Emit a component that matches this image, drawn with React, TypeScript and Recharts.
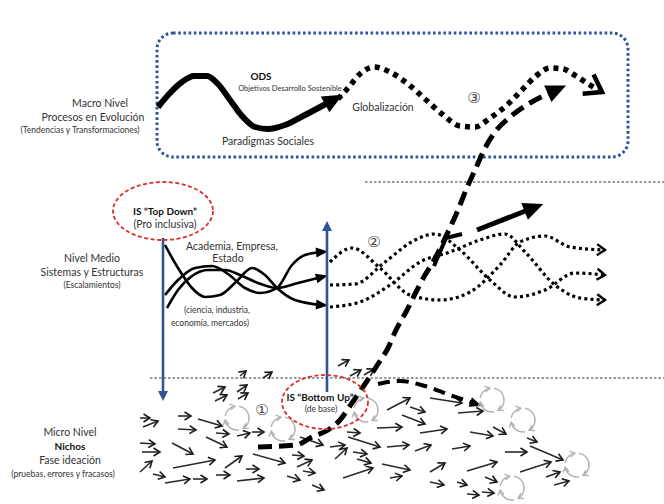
import React from "react";
import {
  ComposedChart,
  Line,
  Scatter,
  XAxis,
  YAxis,
  ReferenceLine,
  ReferenceArea,
} from "recharts";

type P = [number, number];

// diagram drawn on a 664 x 504 data plane (y grows downward)
const macroSolid: P[] = [
  [158, 107], [170, 93], [182, 82], [194, 76], [207, 76], [218, 84], [230, 100],
  [242, 116], [255, 127], [268, 129], [285, 125], [305, 115], [322, 106], [333, 100],
];
const macroDotted: P[] = [
  [338, 99], [348, 88], [360, 74], [374, 67], [390, 72], [408, 84], [425, 99],
  [442, 114], [460, 126], [475, 127], [490, 118], [507, 105], [522, 90], [536, 76],
  [550, 68], [563, 69], [576, 76], [590, 85], [602, 92],
];

const midSolidA: P[] = [[165, 245], [178, 268], [192, 288], [205, 297], [220, 295], [236, 282], [252, 268], [265, 275], [277, 288], [295, 300], [322, 305]];
const midSolidB: P[] = [[165, 295], [178, 280], [195, 268], [212, 266], [228, 274], [245, 288], [260, 293], [277, 288], [292, 265], [305, 255], [322, 252]];
const midSolidC: P[] = [[167, 308], [178, 290], [192, 276], [208, 270], [225, 270], [240, 275], [258, 283], [277, 288], [298, 283], [322, 277]];

const midDotA: P[] = [[330, 262], [352, 248], [380, 268], [410, 295], [440, 300], [470, 292], [500, 265], [520, 242], [545, 236], [570, 247], [605, 250]];
const midDotB: P[] = [[330, 285], [355, 284], [385, 262], [415, 240], [435, 234], [460, 250], [490, 280], [515, 297], [545, 290], [575, 273], [605, 275]];
const midDotC: P[] = [[330, 307], [360, 302], [390, 285], [420, 262], [450, 252], [480, 240], [505, 234], [525, 252], [555, 285], [580, 298], [605, 300]];

const bigDash: P[] = [
  [258, 447], [296, 445], [312, 437], [328, 430], [340, 420], [352, 403], [367, 381],
  [378, 364], [388, 348], [396, 330], [406, 312], [417, 290], [425, 275], [433, 262],
  [448, 232], [458, 210], [466, 190], [475, 170], [484, 150], [495, 132], [510, 117],
  [530, 103], [556, 90],
];
const branchSolid: P[] = [[434, 266], [446, 238], [462, 234]];
const thickArrow: P[] = [[477, 230], [533, 208]];
const microDash: P[] = [[378, 384], [400, 381], [425, 386], [450, 395], [476, 404]];

const topDown: P[] = [[163, 238], [163, 394]];
const bottomUp: P[] = [[327, 392], [327, 228]];

// small niche arrows: x1, y1, x2, y2
const nicheArrows: [number, number, number, number][] = [
  [240, 376, 246, 371], [263, 378, 272, 372], [213, 393, 225, 387], [237, 392, 247, 385],
  [215, 401, 227, 395], [238, 399, 248, 393], [338, 366, 349, 360], [350, 376, 361, 370],
  [364, 375, 374, 369],
  [140, 418, 150, 418], [143, 427, 158, 421], [178, 416, 191, 416], [178, 429, 196, 430],
  [198, 419, 222, 426], [216, 433, 229, 434], [140, 443, 155, 444], [142, 452, 160, 452],
  [172, 443, 193, 454], [206, 437, 227, 447], [237, 436, 250, 433], [252, 432, 264, 432],
  [140, 472, 152, 461], [153, 474, 165, 477], [173, 468, 215, 460], [225, 468, 242, 456],
  [165, 483, 190, 479], [193, 479, 207, 479], [216, 475, 230, 475], [246, 469, 259, 469],
  [237, 481, 264, 478], [253, 454, 285, 463], [292, 455, 304, 456], [297, 467, 312, 460],
  [287, 476, 300, 480], [303, 471, 315, 473], [312, 485, 324, 490], [300, 437, 323, 445],
  [387, 410, 410, 398], [410, 407, 425, 412], [430, 398, 462, 403], [458, 413, 483, 411],
  [402, 415, 425, 424], [377, 428, 402, 427], [420, 433, 447, 429], [470, 432, 493, 436],
  [493, 427, 506, 434], [347, 432, 360, 433], [348, 437, 380, 447], [330, 447, 345, 445],
  [353, 452, 367, 454], [387, 447, 409, 445], [415, 451, 431, 445], [452, 449, 470, 446],
  [505, 452, 527, 452], [527, 438, 537, 442], [530, 446, 563, 460], [335, 459, 347, 448],
  [357, 459, 371, 463], [343, 478, 373, 468], [382, 464, 410, 470], [430, 472, 445, 463],
  [467, 471, 497, 462], [390, 478, 402, 476], [430, 482, 444, 485], [457, 482, 467, 485],
  [467, 494, 479, 495], [482, 492, 494, 493], [485, 477, 497, 482], [520, 472, 551, 462],
  [546, 477, 560, 472], [554, 485, 569, 481],
];

// grey trial-and-error loops
const loops = [
  { x: 237, y: 418 }, { x: 283, y: 429 }, { x: 366, y: 410 }, { x: 492, y: 400 },
  { x: 523, y: 420 }, { x: 577, y: 465 }, { x: 512, y: 488 },
];

const topDownCircle = [{ x: 163, y: 211 }];
const bottomUpCircle = [{ x: 325, y: 402 }];

const labels = [
  { x: 100, y: 103, text: "Macro Nivel", kind: "title" },
  { x: 93, y: 117, text: "Procesos en Evolución", kind: "title" },
  { x: 80, y: 130, text: "(Tendencias y Transformaciones)", kind: "small" },
  { x: 261, y: 76, text: "ODS", kind: "bold" },
  { x: 290, y: 88, text: "Objetivos Desarrollo Sostenible", kind: "tiny" },
  { x: 383, y: 107, text: "Globalización", kind: "title" },
  { x: 268, y: 141, text: "Paradigmas Sociales", kind: "title" },
  { x: 165, y: 211, text: "IS “Top Down”", kind: "bold" },
  { x: 165, y: 224, text: "(Pro inclusiva)", kind: "title" },
  { x: 92, y: 258, text: "Nivel Medio", kind: "title" },
  { x: 92, y: 272, text: "Sistemas y Estructuras", kind: "title" },
  { x: 92, y: 285, text: "(Escalamientos)", kind: "small" },
  { x: 232, y: 246, text: "Academia, Empresa,", kind: "title" },
  { x: 228, y: 258, text: "Estado", kind: "title" },
  { x: 217, y: 310, text: "(ciencia, industria,", kind: "small" },
  { x: 210, y: 323, text: "economía, mercados)", kind: "small" },
  { x: 320, y: 397, text: "IS “Bottom Up”", kind: "bold" },
  { x: 321, y: 409, text: "(de base)", kind: "small" },
  { x: 70, y: 432, text: "Micro Nivel", kind: "title" },
  { x: 70, y: 446, text: "Nichos", kind: "bold" },
  { x: 70, y: 460, text: "Fase ideación", kind: "title" },
  { x: 63, y: 474, text: "(pruebas, errores y fracasos)", kind: "small" },
  { x: 262, y: 410, text: "①", kind: "num" },
  { x: 374, y: 242, text: "②", kind: "num" },
  { x: 474, y: 98, text: "③", kind: "num" },
];

const FONT = "Lato, 'Open Sans', sans-serif";
const BLUE = "#2f5597";

const textStyle: Record<string, any> = {
  title: { fontSize: 10.5, fill: "#333" },
  small: { fontSize: 8.5, fill: "#333" },
  tiny: { fontSize: 7.5, fill: "#333" },
  bold: { fontSize: 10, fill: "#111", fontWeight: 700 },
  num: { fontSize: 15, fill: "#444", fontFamily: "'DejaVu Sans', sans-serif" },
};

const toXY = (a: P[]) => a.map(([x, y]) => ({ x, y }));

const renderLabel = (p: any) => {
  const d = p.payload;
  const s = textStyle[d.kind];
  return (
    <text
      x={p.cx}
      y={p.cy}
      textAnchor="middle"
      dominantBaseline="central"
      fontFamily={s.fontFamily || FONT}
      fontSize={s.fontSize}
      fontWeight={s.fontWeight || 400}
      fill={s.fill}
    >
      {d.text}
    </text>
  );
};

const arc = (cx: number, cy: number, r: number, a0: number, a1: number) => {
  const rad = Math.PI / 180;
  const x0 = cx + r * Math.cos(a0 * rad);
  const y0 = cy + r * Math.sin(a0 * rad);
  const x1 = cx + r * Math.cos(a1 * rad);
  const y1 = cy + r * Math.sin(a1 * rad);
  return `M${x0},${y0} A${r},${r} 0 ${a1 - a0 > 180 ? 1 : 0} 1 ${x1},${y1}`;
};

const renderLoop = (p: any) => (
  <g fill="none" stroke="#b3b3b3" strokeWidth={1.6}>
    <path d={arc(p.cx, p.cy, 12, -80, 60)} markerEnd="url(#hGray)" />
    <path d={arc(p.cx, p.cy, 12, 80, 170)} markerEnd="url(#hGray)" />
    <path d={arc(p.cx, p.cy, 12, 190, 260)} markerEnd="url(#hGray)" />
  </g>
);

const ellipse = (rx: number, ry: number) => (p: any) => (
  <ellipse
    cx={p.cx}
    cy={p.cy}
    rx={rx}
    ry={ry}
    fill="none"
    stroke="#d8302a"
    strokeWidth={1.8}
    strokeDasharray="4 2.5"
  />
);

const Markers = () => (
  <svg width={0} height={0} style={{ position: "absolute" }}>
    <defs>
      <marker id="hSolid" markerUnits="userSpaceOnUse" markerWidth={20} markerHeight={18} refX={9} refY={9} orient="auto" overflow="visible">
        <path d="M0,0 L20,9 L0,18 z" fill="#000" />
      </marker>
      <marker id="hMid" markerUnits="userSpaceOnUse" markerWidth={12} markerHeight={10} refX={6} refY={5} orient="auto" overflow="visible">
        <path d="M0,0 L12,5 L0,10 z" fill="#000" />
      </marker>
      <marker id="hBlue" markerUnits="userSpaceOnUse" markerWidth={10} markerHeight={10} refX={3} refY={5} orient="auto" overflow="visible">
        <path d="M0,0 L10,5 L0,10 z" fill={BLUE} />
      </marker>
      <marker id="hSmall" markerUnits="userSpaceOnUse" markerWidth={7} markerHeight={8} refX={6.5} refY={4} orient="auto" overflow="visible">
        <path d="M0,0 L6.5,4 L0,8" fill="none" stroke="#1a1a1a" strokeWidth={1.6} />
      </marker>
      <marker id="hDot" markerUnits="userSpaceOnUse" markerWidth={9} markerHeight={11} refX={8} refY={5.5} orient="auto" overflow="visible">
        <path d="M0,0 L8,5.5 L0,11" fill="none" stroke="#000" strokeWidth={2.4} />
      </marker>
      <marker id="hBig" markerUnits="userSpaceOnUse" markerWidth={18} markerHeight={22} refX={16} refY={11} orient="auto" overflow="visible">
        <path d="M0,0 L16,11 L0,22" fill="none" stroke="#000" strokeWidth={4.5} />
      </marker>
      <marker id="hGray" markerUnits="userSpaceOnUse" markerWidth={6} markerHeight={6} refX={5} refY={3} orient="auto" overflow="visible">
        <path d="M0,0 L5,3 L0,6" fill="none" stroke="#b3b3b3" strokeWidth={1.4} />
      </marker>
    </defs>
  </svg>
);

const line = (
  key: string,
  d: P[],
  stroke: string,
  width: number,
  opts: { dash?: string; marker?: string; type?: any } = {}
) => (
  <Line
    key={key}
    data={toXY(d)}
    dataKey="y"
    type={opts.type || "monotone"}
    stroke={stroke}
    strokeWidth={width}
    strokeDasharray={opts.dash}
    markerEnd={opts.marker ? `url(#${opts.marker})` : undefined}
    dot={false}
    activeDot={false}
    isAnimationActive={false}
  />
);

export default function App() {
  return (
    <div style={{ position: "absolute", left: 0, top: 0, width: 664, height: 504, background: "#fff" }}>
      <Markers />
      <ComposedChart width={664} height={504} margin={{ top: 0, right: 0, bottom: 0, left: 0 }}>
        <XAxis type="number" dataKey="x" domain={[0, 664]} hide />
        <YAxis type="number" dataKey="y" domain={[0, 504]} reversed hide />

        <ReferenceArea
          x1={157}
          x2={628}
          y1={33}
          y2={157}
          shape={(p: any) => (
            <rect x={p.x} y={p.y} width={p.width} height={p.height} rx={16} fill="none" stroke={BLUE} strokeWidth={3} strokeDasharray="2.6 2.6" />
          )}
        />
        <ReferenceLine segment={[{ x: 365, y: 182 }, { x: 664, y: 182 }]} stroke="#333" strokeWidth={1} strokeDasharray="2.5 2" />
        <ReferenceLine segment={[{ x: 150, y: 378 }, { x: 664, y: 378 }]} stroke="#333" strokeWidth={1} strokeDasharray="2.5 2" />

        {line("macroSolid", macroSolid, "#000", 6, { marker: "hSolid" })}
        {line("macroDotted", macroDotted, "#000", 5.5, { dash: "5 5", marker: "hBig" })}

        {line("midA", midSolidA, "#000", 2.6, { marker: "hMid" })}
        {line("midB", midSolidB, "#000", 2.6, { marker: "hMid" })}
        {line("midC", midSolidC, "#000", 2.6, { marker: "hMid" })}
        {line("dotA", midDotA, "#000", 3.2, { dash: "3 3.2", marker: "hDot" })}
        {line("dotB", midDotB, "#000", 3.2, { dash: "3 3.2", marker: "hDot" })}
        {line("dotC", midDotC, "#000", 3.2, { dash: "3 3.2", marker: "hDot" })}

        {line("topDown", topDown, BLUE, 2.6, { type: "linear", marker: "hBlue" })}
        {line("bottomUp", bottomUp, BLUE, 2.6, { type: "linear", marker: "hBlue" })}

        {nicheArrows.map(([x1, y1, x2, y2], i) =>
          line(`n${i}`, [[x1, y1], [x2, y2]], "#2a2a2a", 1.6, { type: "linear", marker: "hSmall" })
        )}

        {line("bigDash", bigDash, "#000", 5, { dash: "14 7", marker: "hSolid" })}
        {line("branch", branchSolid, "#000", 4, { type: "linear" })}
        {line("thickArrow", thickArrow, "#000", 5, { type: "linear", marker: "hSolid" })}
        {line("microDash", microDash, "#000", 4, { dash: "12 7", marker: "hMid" })}

        <Scatter data={loops} shape={renderLoop} isAnimationActive={false} />
        <Scatter data={topDownCircle} shape={ellipse(50, 29)} isAnimationActive={false} />
        <Scatter data={bottomUpCircle} shape={ellipse(43, 27)} isAnimationActive={false} />
        <Scatter data={labels} shape={renderLabel} isAnimationActive={false} />
      </ComposedChart>
    </div>
  );
}
